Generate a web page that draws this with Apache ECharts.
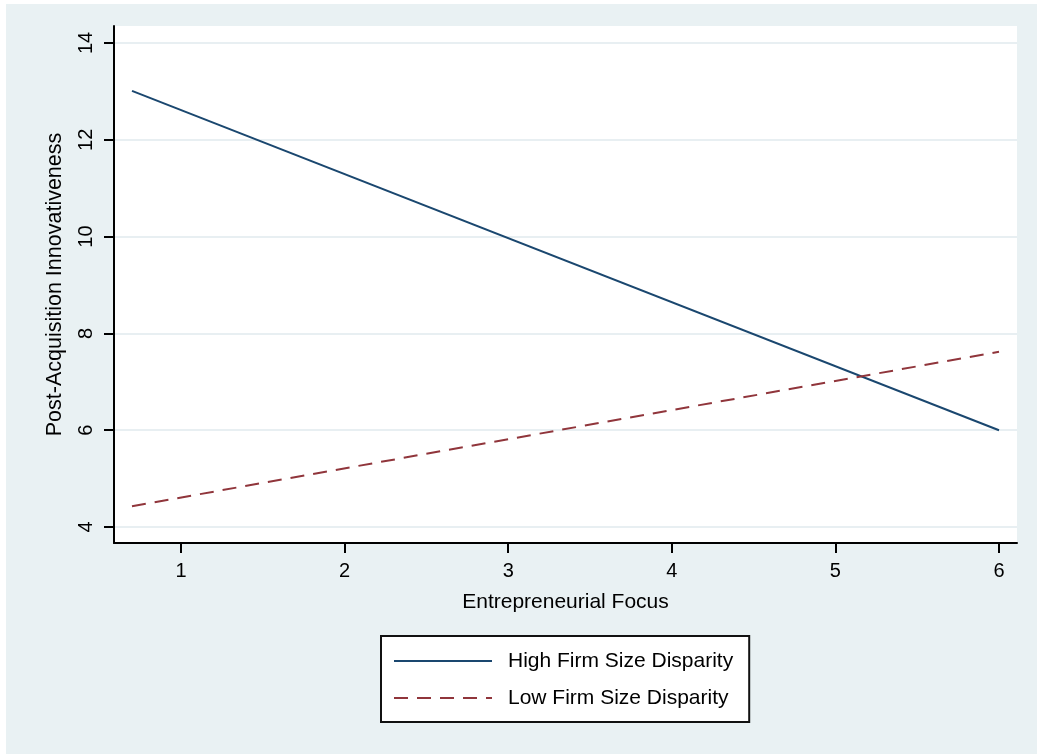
<!DOCTYPE html>
<html>
<head>
<meta charset="utf-8">
<title>Post-Acquisition Innovativeness</title>
<script src="https://cdn.jsdelivr.net/npm/echarts@6/dist/echarts.min.js"></script>
<style>
  html, body { margin: 0; padding: 0; background: #ffffff; }
  #frame {
    position: absolute; left: 6px; top: 4px;
    width: 1031px; height: 750px;
    background: #e9f1f3;
  }
  #chart { width: 100%; height: 100%; }
</style>
</head>
<body>
<div id="frame"><div id="chart"></div></div>
<script>
// Predicted values at the two ends of the entrepreneurial-focus range
const focus = [0.7, 6.0];
const highDisparity = [13.01, 6.0];
const lowDisparity = [4.43, 7.62];

// Tick labels
const xTicks = [1, 2, 3, 4, 5, 6];
const yTicks = [4, 6, 8, 10, 12, 14];

const seriesNames = ['High Firm Size Disparity', 'Low Firm Size Disparity'];

const FONT = "'Liberation Sans', Arial, sans-serif";
const pairs = (xs, ys) => xs.map((x, i) => [x, ys[i]]);

const chart = echarts.init(document.getElementById('chart'), null, { renderer: 'canvas' });

chart.setOption({
  backgroundColor: 'transparent',
  animation: false,
  textStyle: { fontFamily: FONT },
  grid: {
    left: 108, top: 22, right: 20, bottom: 211,
    show: true, backgroundColor: '#ffffff', borderWidth: 0
  },
  xAxis: {
    type: 'value',
    min: 0.59, max: 6.11,
    name: 'Entrepreneurial Focus',
    nameLocation: 'middle',
    nameGap: 49,
    nameTextStyle: { fontFamily: FONT, fontSize: 21, color: '#000' },
    axisLine: { show: true, onZero: false, lineStyle: { color: '#000', width: 2 } },
    axisTick: { show: true, length: 10, customValues: xTicks, lineStyle: { color: '#000', width: 2 } },
    axisLabel: { customValues: xTicks, margin: 18, fontFamily: FONT, fontSize: 20, color: '#000' },
    splitLine: { show: false }
  },
  yAxis: {
    type: 'value',
    min: 3.67, max: 14.35,
    name: 'Post-Acquisition Innovativeness',
    nameLocation: 'middle',
    nameGap: 48,
    nameTextStyle: { fontFamily: FONT, fontSize: 21.5, color: '#000' },
    axisLine: { show: true, onZero: false, lineStyle: { color: '#000', width: 2 } },
    axisTick: { show: true, length: 10, customValues: yTicks, lineStyle: { color: '#000', width: 2 } },
    axisLabel: { customValues: yTicks, rotate: 90, margin: 18, fontFamily: FONT, fontSize: 20, color: '#000' },
    splitLine: { show: true, lineStyle: { color: '#e8eff2', width: 2 } }
  },
  legend: {
    orient: 'vertical',
    left: 375, top: 632,
    padding: [13, 16, 12, 12],
    itemGap: 13,
    itemWidth: 98,
    itemHeight: 14,
    backgroundColor: '#ffffff',
    borderColor: '#111111',
    borderWidth: 2,
    borderRadius: 0,
    // only the line sample is shown, no marker dot
    itemStyle: { opacity: 0 },
    textStyle: { fontFamily: FONT, fontSize: 21, color: '#000', lineHeight: 24, padding: [0, 0, 0, 11] },
    data: seriesNames
  },
  series: [
    {
      name: seriesNames[0],
      type: 'line',
      data: pairs(focus, highDisparity),
      symbol: 'none',
      lineStyle: { color: '#1a476f', width: 2 },
      itemStyle: { color: '#1a476f' }
    },
    {
      name: seriesNames[1],
      type: 'line',
      data: pairs(focus, lowDisparity),
      symbol: 'none',
      lineStyle: { color: '#90353b', width: 2, type: [14, 9] },
      itemStyle: { color: '#90353b' }
    }
  ]
});
</script>
</body>
</html>
